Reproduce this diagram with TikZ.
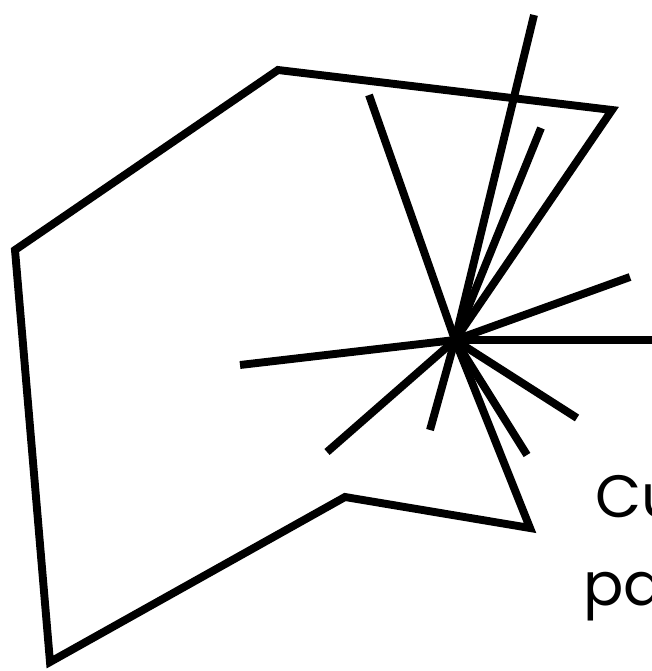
\documentclass[tikz,border=0pt]{standalone}
\usepackage{fontspec}
\setmainfont{Poppins}
\usetikzlibrary{positioning}
\tikzset{
  stroke/.style={draw=black, line width=4.5pt},
  ray/.style={stroke},
  caption/.style={font=\fontsize{34}{40}\selectfont, inner sep=0pt, anchor=base west},
}
\begin{document}
\begin{tikzpicture}[x=0.02cm, y=-0.02cm]
  \useasboundingbox (0,0) rectangle (651,671);
  % outline
  \coordinate (hub) at (455,340);
  \coordinate (ptop) at (278,70);
  \coordinate (pright) at (612,110);
  \coordinate (plow) at (530,528);
  \coordinate (pnotch) at (345,497);
  \coordinate (pbottom) at (50,662);
  \coordinate (pleft) at (15,250);
  \draw[stroke] (ptop) -- (pright) -- (hub) -- (plow) -- (pnotch) -- (pbottom) -- (pleft) -- cycle;
  % rays from the hub
  \foreach \x/\y [count=\i] in {534/15, 369/95, 541/128, 630/277, 660/340,
      240/365, 327/452, 430/430, 527/455, 577/418} {
    \coordinate (tip\i) at (\x,\y);
    \draw[ray] (hub) -- (tip\i);
  }
  % label
  \node[caption] (lineone) at (595,517) {Cu};
  \node[caption] (linetwo) at (583,605) {pa};
\end{tikzpicture}
\end{document}
